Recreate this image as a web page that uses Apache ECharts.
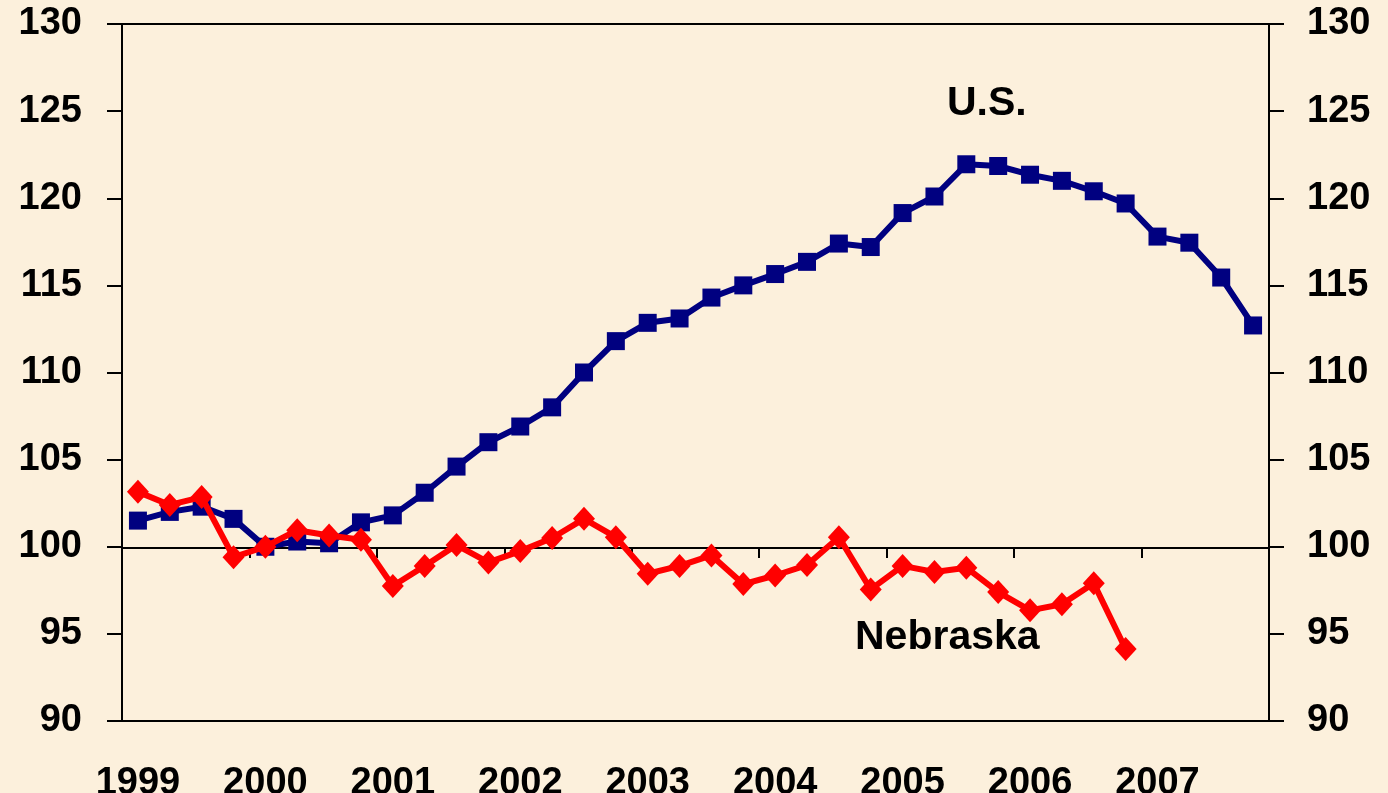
<!DOCTYPE html>
<html>
<head>
<meta charset="utf-8">
<script src="https://cdn.jsdelivr.net/npm/echarts@6/dist/echarts.min.js"></script>
<style>
  html, body { margin: 0; padding: 0; background: #fcf0dc; }
  #chart { width: 1388px; height: 793px; }
</style>
</head>
<body>
<div id="chart"></div>
<script>
// quarterly index, 2000Q1 = 100
var years = ['1999', '2000', '2001', '2002', '2003', '2004', '2005', '2006', '2007'];
var quarters = [];
years.forEach(function (y) {
    quarters.push(y + 'Q1', y + 'Q2', y + 'Q3', y + 'Q4');
});

var usValues = [
    101.5, 102.0, 102.3, 101.6, 100.0, 100.3, 100.2, 101.4,
    101.8, 103.1, 104.6, 106.0, 106.9, 108.0, 110.0, 111.8,
    112.85, 113.1, 114.3, 115.0, 115.65, 116.35, 117.4, 117.2,
    119.15, 120.1, 121.95, 121.85, 121.35, 121.0, 120.4, 119.7,
    117.8, 117.45, 115.45, 112.7
];
var nebraskaValues = [
    103.15, 102.4, 102.85, 99.4, 100.0, 100.95, 100.65, 100.4,
    97.75, 98.9, 100.1, 99.1, 99.75, 100.5, 101.6, 100.55,
    98.45, 98.9, 99.5, 97.86, 98.35, 98.95, 100.55, 97.55,
    98.9, 98.55, 98.8, 97.4, 96.35, 96.7, 97.9, 94.13
];
var yMin = 90, yMax = 130, yStep = 5;

var chart = echarts.init(document.getElementById('chart'));
var labelFont = {
    color: '#000',
    fontFamily: 'Liberation Sans, Arial, sans-serif',
    fontWeight: 'bold',
    fontSize: 38
};

var option = {
    backgroundColor: '#fcf0dc',
    animation: false,
    grid: {
        left: 122, right: 119, top: 24, bottom: 72,
        show: true,
        borderColor: '#000',
        borderWidth: 2,
        containLabel: false,
        outerBoundsMode: 'none'
    },
    xAxis: [
        {
            // line at 100 with year ticks
            type: 'category',
            data: quarters,
            boundaryGap: true,
            position: 'bottom',
            offset: -173,
            axisLine: { show: true, lineStyle: { color: '#000', width: 2 } },
            axisTick: { show: true, interval: 3, length: 10, lineStyle: { color: '#000', width: 2 } },
            axisLabel: { show: false },
            splitLine: { show: false }
        },
        {
            type: 'category',
            data: quarters,
            boundaryGap: true,
            position: 'bottom',
            axisLine: { show: false },
            axisTick: { show: false },
            axisLabel: Object.assign({
                interval: 3,
                margin: 44,
                formatter: function (v) { return v.slice(0, 4); }
            }, labelFont),
            splitLine: { show: false }
        }
    ],
    yAxis: [
        {
            type: 'value', position: 'left',
            min: yMin, max: yMax, interval: yStep,
            axisLine: { show: true, lineStyle: { color: '#000', width: 2 } },
            axisTick: { show: true, length: 15, lineStyle: { color: '#000', width: 2 } },
            axisLabel: Object.assign({ margin: 40 }, labelFont),
            splitLine: { show: false }
        },
        {
            type: 'value', position: 'right',
            min: yMin, max: yMax, interval: yStep,
            axisLine: { show: true, lineStyle: { color: '#000', width: 2 } },
            axisTick: { show: true, length: 15, lineStyle: { color: '#000', width: 2 } },
            axisLabel: Object.assign({ margin: 38 }, labelFont),
            splitLine: { show: false }
        }
    ],
    series: [
        {
            name: 'U.S.',
            type: 'line',
            xAxisIndex: 1,
            yAxisIndex: 0,
            data: usValues,
            symbol: 'rect',
            symbolSize: 18,
            showAllSymbol: true,
            lineStyle: { color: '#000080', width: 6 },
            itemStyle: { color: '#000080' },
            z: 3
        },
        {
            name: 'Nebraska',
            type: 'line',
            xAxisIndex: 1,
            yAxisIndex: 0,
            data: nebraskaValues,
            symbol: 'diamond',
            symbolSize: [22, 24],
            showAllSymbol: true,
            lineStyle: { color: '#ff0000', width: 6 },
            itemStyle: { color: '#ff0000' },
            z: 4
        }
    ],
    graphic: [
        {
            type: 'text', left: 947, top: 83,
            style: { text: 'U.S.', fill: '#000', font: 'bold 41px "Liberation Sans", Arial, sans-serif' }
        },
        {
            type: 'text', left: 855, top: 617,
            style: { text: 'Nebraska', fill: '#000', font: 'bold 41px "Liberation Sans", Arial, sans-serif' }
        }
    ]
};
chart.setOption(option);
</script>
</body>
</html>
